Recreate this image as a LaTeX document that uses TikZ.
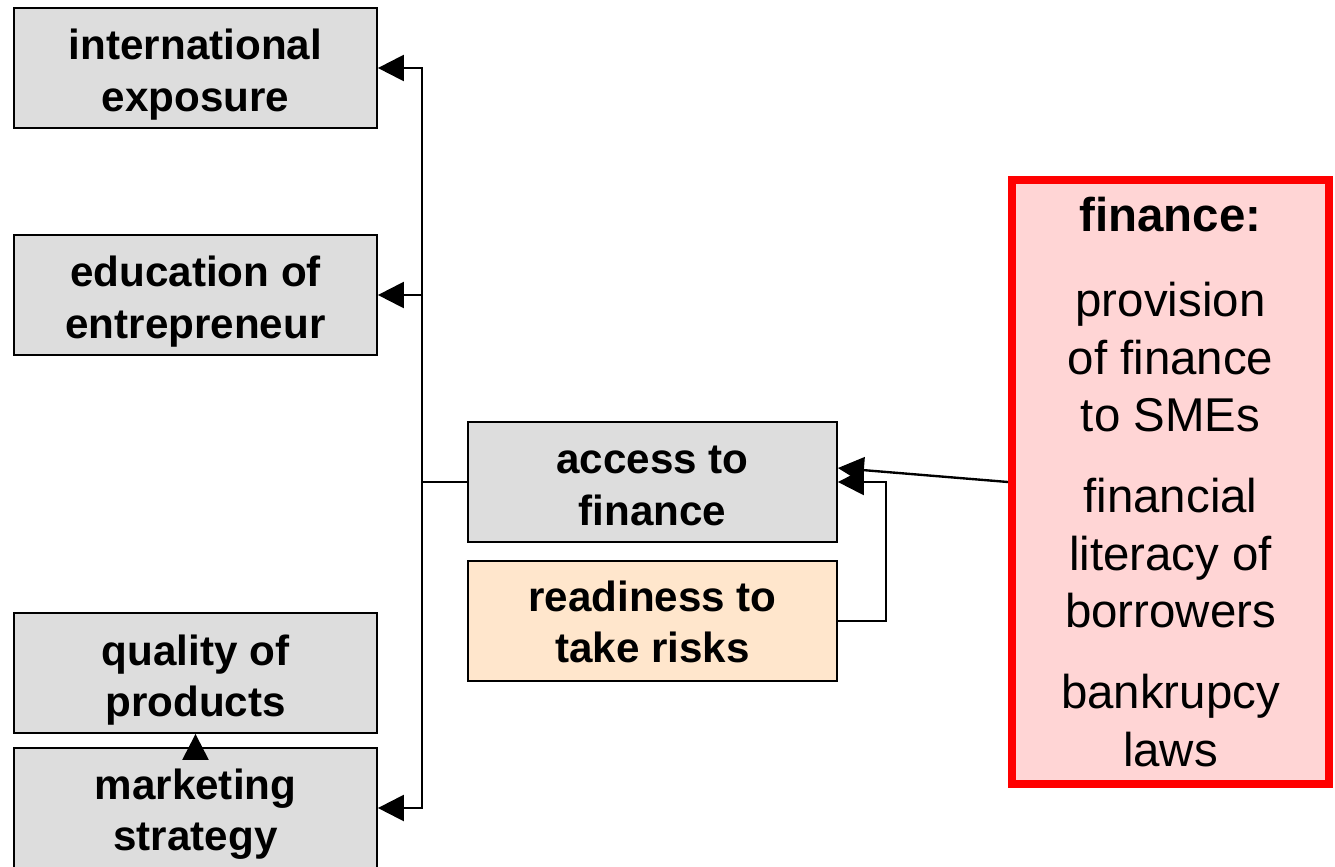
\documentclass[tikz,border=0pt]{standalone}
\usepackage{fontspec}
\setmainfont{Liberation Sans}
\usetikzlibrary{arrows.meta}
\definecolor{boxgray}{HTML}{DDDDDD}
\definecolor{peach}{HTML}{FFE6CC}
\definecolor{rosefill}{HTML}{FFD5D5}
\definecolor{pureRed}{HTML}{FF0000}
\begin{document}
\begin{tikzpicture}[x=0.02cm,y=-0.02cm,
  factor/.style={draw=black,line width=1.05pt,fill=boxgray,
    minimum width=7.26cm,minimum height=2.4cm,inner sep=0pt},
  midbox/.style={factor,minimum width=7.38cm},
  boxtext/.style={align=center,inner sep=0pt,
    font=\bfseries\fontsize{24pt}{29.2pt}\selectfont},
  link/.style={line width=1.35pt,-{Triangle[length=0.52cm,width=0.52cm]}}]
\useasboundingbox (0,0) rectangle (1335,866);

% factor boxes on the left
\node[factor,label={[boxtext,yshift=-0.13cm]center:international\\exposure}] (intl) at (195.5,68) {};
\node[factor,label={[boxtext,yshift=-0.13cm]center:education of\\entrepreneur}] (edu) at (195.5,295) {};
\node[factor,label={[boxtext,yshift=-0.14cm]center:quality of\\products}] (qual) at (195.5,673) {};
\node[factor,label={[boxtext,yshift=-0.13cm]center:marketing\\strategy}] (mkt) at (195.5,808) {};

% middle boxes
\node[midbox,label={[boxtext,yshift=-0.08cm]center:access to\\finance}] (access) at (652.5,482) {};
\node[midbox,fill=peach,label={[boxtext,yshift=-0.02cm]center:readiness to\\take risks}] (ready) at (652.5,621) {};

% finance box on the right
\node[draw=pureRed,fill=rosefill,line width=4.5pt,align=center,
      minimum width=6.34cm,minimum height=12.08cm,inner sep=0pt,
      font=\fontsize{27pt}{32.7pt}\selectfont] (fin) at (1170.5,482)
  {\textbf{finance:}\\[0.55cm]
   provision\\of finance\\to SMEs\\[0.47cm]
   financial\\literacy of\\borrowers\\[0.47cm]
   bankrupcy\\laws};

% spine from access to the left-hand factors
\coordinate (spine) at (422,482);
\draw[line width=1.35pt] (access.west) -- (spine);
\draw[link] (spine) |- (intl.east);
\draw[link] (spine) |- (edu.east);
\draw[link] (spine) |- (mkt.east);

% arrows into access to finance
\draw[link] (fin.west) -- ([yshift=0.28cm]access.east);
\draw[link] (ready.east) -- ++(48,0) |- (access.east);

% marketing strategy to quality of products (head only, sitting on the box edge)
\draw[link] ([yshift=-0.22cm]mkt.north) -- (qual.south);
\end{tikzpicture}
\end{document}
